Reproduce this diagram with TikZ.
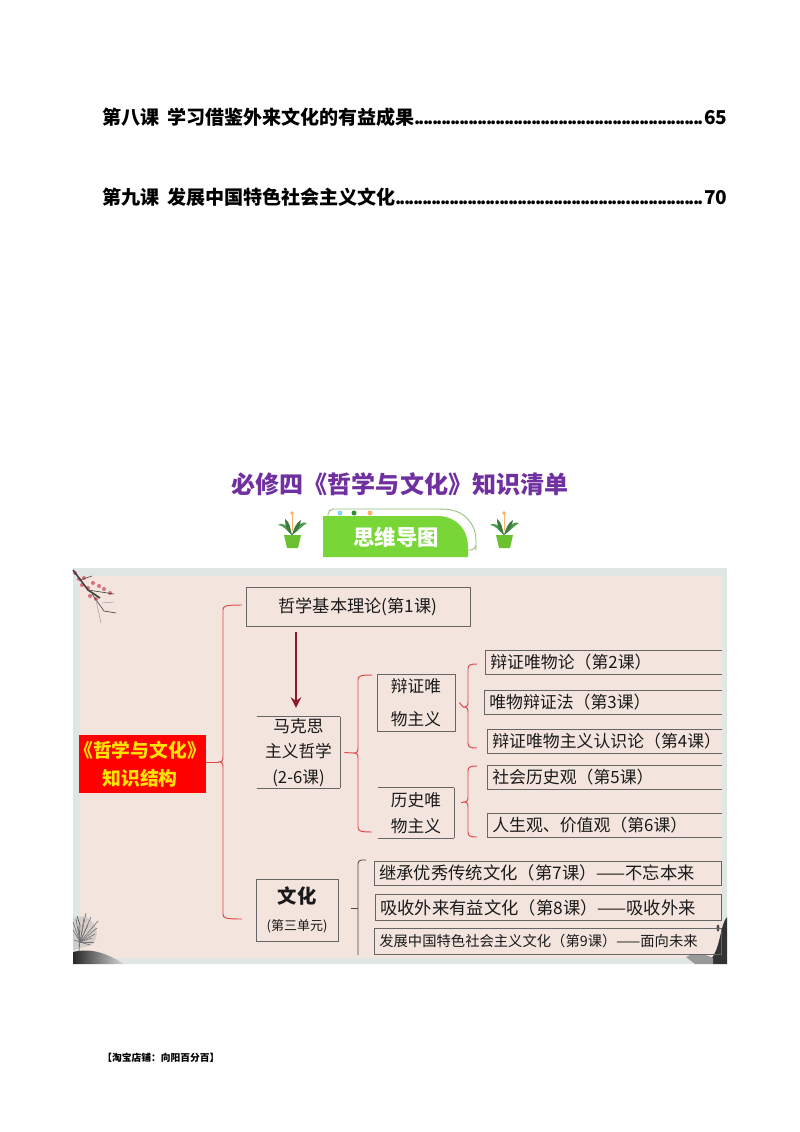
\documentclass[tikz,border=0pt]{standalone}
\usepackage{fontspec}
\usepackage{xcolor}
\setmainfont{Noto Sans CJK SC}
\usetikzlibrary{arrows.meta, positioning}

\definecolor{titlepurple}{HTML}{7030A0}
\definecolor{framegrey}{HTML}{E0E6E3}
\definecolor{paper}{HTML}{F3E4DD}
\definecolor{bracered}{HTML}{E0484A}
\definecolor{arrowred}{HTML}{8E1B2A}
\definecolor{bannergreen}{HTML}{78D636}
\definecolor{leafgreen}{HTML}{4E9A50}
\definecolor{inkdark}{HTML}{1A1A1A}
\definecolor{plumpink}{HTML}{D8707E}

\newcommand{\fs}[1]{\fontsize{#1pt}{#1pt}\selectfont}
\newcommand{\dotsto}{\xleaders\hbox to 2.56pt{\hss{\fs{10}.}\hss}\hfill\kern0.5pt}

% left end, spine, top, bottom, tip height
\newcommand{\bracket}[5]{
\draw[redbrace] (#1,#3) .. controls (#2+2,#3) and (#2,#3+1) .. (#2,#3+5) -- (#2,#5-5) .. controls (#2,#5-1) and (#2-1,#5) .. (#2-5,#5) .. controls (#2-1,#5) and (#2,#5+1) .. (#2,#5+5) -- (#2,#4-5) .. controls (#2,#4-1) and (#2+2,#4) .. (#1,#4);
}

\tikzset{
  toc/.style={font=\bfseries\fs{10.85}, text=black, anchor=west, text width=12.5cm, inner sep=0},
  lesson/.style={font=\fs{9.6}, text=inkdark, anchor=west, align=left, inner xsep=0.1cm, inner ysep=0, minimum height=0.47cm},
  branch/.style={font=\fs{9.5}, text=inkdark, align=center, inner sep=0},
  boxline/.style={draw=black!60, line width=0.45pt},
  redbrace/.style={draw=bracered, line width=0.55pt},
  blackbrace/.style={draw=black!70, line width=0.5pt},
  twig/.style={draw=black!75, line width=0.35pt},
}

\begin{document}
\begin{tikzpicture}[x=0.02cm, y=-0.02cm]
\useasboundingbox[fill=white] (0,0) rectangle (800,1132);

% contents lines
\node[toc] (eight) at (102,117) {第八课\hspace{0.4em}学习借鉴外来文化的有益成果\dotsto 65};
\node[toc] (nine) at (102,197) {第九课\hspace{0.4em}发展中国特色社会主义文化\dotsto 70};

\node[font=\bfseries\fs{13.7}, text=titlepurple, inner sep=0] (title) at (400,484) {必修四《哲学与文化》知识清单};

% banner
\draw[bannergreen!70!black!60!white, line width=0.5pt, rounded corners=3] (328,516) -- (328,509) -- (440,509) .. controls (465,510) and (476,525) .. (476,545) -- (476,550) -- (468,550);
\fill[cyan!50!white] (340,513) circle (2.5);
\fill[green!45!black!80] (354,513) circle (2.5);
\fill[orange!60!white] (370,513) circle (2.5);
\fill[bannergreen] (323,516) -- (440,516) .. controls (458,518) and (468,530) .. (468,548) -- (468,557) -- (323,557) -- cycle;
\node[font=\bfseries\fs{12.2}, text=white, inner sep=0] (banner) at (396,537) {思维导图};

% pots
\foreach \px in {293,505}{
  \draw[orange!60!white, line width=0.5pt] (\px-1,531) -- (\px-1,514);
  \fill[orange!60!white] (\px-1,513) circle (1.8);
  \fill[leafgreen] (\px-1,535) .. controls (\px-5,524) and (\px-12,522) .. (\px-15,525) .. controls (\px-10,525) and (\px-7,530) .. (\px-1,535);
  \fill[leafgreen] (\px-1,535) .. controls (\px+4,524) and (\px+10,521) .. (\px+14,523) .. controls (\px+9,526) and (\px+6,530) .. (\px-1,535);
  \fill[leafgreen!80!black] (\px-1,535) .. controls (\px-3,528) and (\px-3,522) .. (\px-8,519) .. controls (\px-8,526) and (\px-6,531) .. (\px-1,535);
  \fill[leafgreen!80!black] (\px-1,535) .. controls (\px+1,528) and (\px+3,523) .. (\px+8,520) .. controls (\px+7,526) and (\px+5,531) .. (\px-1,535);
  \fill[bannergreen!90!black] (\px-9,535) -- (\px+8,535) -- (\px+5,548) -- (\px-6,548) -- cycle;
}

% picture background
\fill[framegrey] (73,568) rectangle (727,964);
\fill[paper] (80,576) rectangle (722,958);

% plum branch
\foreach \bx/\by in {75/573, 79/579, 84/578, 82/585, 88/588, 93/583, 99/586, 104/589, 110/593, 90/596, 96/599}
  \fill[plumpink] (\bx,\by) circle (2);
\draw[twig, line width=0.9pt] (73,570) -- (88,590) -- (100,598);
\draw[twig] (88,590) -- (114,594);
\draw[twig] (80,580) -- (92,576);
\draw[twig] (92,594) -- (104,611) -- (116,613);
\draw[twig, draw=black!35] (96,600) -- (101,623);
\draw[twig, draw=black!35] (102,603) -- (114,602);

% tree and hill
\fill[black!30, opacity=0.45] (73,918) -- (84,916) .. controls (98,922) and (100,935) .. (92,945) -- (73,950) -- cycle;
\shade[left color=black!85, right color=black!15] (73,964) -- (73,952) .. controls (90,948) and (105,952) .. (124,964) -- cycle;
\draw[twig] (79,952) -- (80,925) -- (77,916);
\foreach \tx/\ty in {73/922, 91/917, 97/928, 73/930, 86/913, 92/938, 98/921, 74/940, 95/934, 84/918, 78/926, 88/925, 90/945, 76/919, 94/942}
  \draw[twig, draw=black!55] (80,942) -- (\tx,\ty);

% rock on the right
\fill[black!80] (727,917) .. controls (720,925) and (721,945) .. (712,958) -- (713,964) -- (727,964) -- cycle;
\fill[black!70] (718,928) ellipse (1.5 and 3.5);
\fill[black!40] (686,957) .. controls (695,952) and (705,954) .. (713,958) -- (713,964) -- (695,964) -- cycle;

% boxes
\node[draw=black!60, line width=0.45pt, minimum width=4.48cm, minimum height=0.78cm, font=\fs{9.8}, text=inkdark, inner sep=0] (theory) at (358,606.5) {哲学基本理论(第1课)};
\node[fill=red, minimum width=2.54cm, minimum height=1.16cm, inner sep=0, text=yellow!85!orange, font=\bfseries\fs{10.7}, align=center] (main) at (142.5,764) {\hspace*{-0.1cm}\makebox[0pt]{《哲学与文化》}\\[5pt]\hspace*{-0.1cm}知识结构};
\node[branch, minimum width=1.66cm, minimum height=1.42cm] (marx) at (298.5,752.5) {马克思\\[5pt]主义哲学\\[5pt](2-6课)};
\node[branch, minimum width=1.56cm, minimum height=1.14cm, draw=black!60, line width=0.45pt] (dialect) at (416,702.5) {辩证唯\\[9pt]物主义};
\node[branch, minimum width=1.52cm, minimum height=1cm] (history) at (416,813) {历史唯\\[5pt]物主义};
\node[draw=black!60, line width=0.45pt, minimum width=1.64cm, minimum height=1.24cm, inner sep=0, text=inkdark, align=center] (culture) at (297,910) {{\bfseries\fs{11}文化}\\[3pt]{\fs{7.4}(第三单元)}};

% lessons, open on the right
\node[lesson, text width=4.52cm] (dm) at (485,662) {辩证唯物论（第2课）};
\node[lesson, text width=4.54cm] (law) at (484,702.5) {唯物辩证法（第3课）};
\node[lesson, text width=4.48cm] (know) at (487,741.5) {辩证唯物主义认识论（第4课）};
\node[lesson, text width=4.48cm] (soc) at (487,777.5) {社会历史观（第5课）};
\node[lesson, text width=4.48cm] (life) at (487,825) {人生观、价值观（第6课）};
\node[lesson, text width=6.74cm, font=\fs{9.85}] (inherit) at (374,873) {继承优秀传统文化（第7课）——不忘本来};
\node[lesson, text width=6.72cm, minimum height=0.5cm, font=\fs{9.85}] (absorb) at (375,907.5) {吸收外来有益文化（第8课）——吸收外来};
\node[lesson, text width=6.74cm, minimum height=0.5cm, font=\fs{8.15}] (develop) at (374,941.5) {发展中国特色社会主义文化（第9课）——面向未来};

\foreach \n in {dm,law,know,soc,life,history,marx}
  \draw[boxline] (\n.north west) -- (\n.north east);
\foreach \n in {dm,law,know,soc,life,history,marx}
  \draw[boxline] (\n.south west) -- (\n.south east);
\foreach \n in {dm,law,know,soc,life}
  \draw[boxline] (\n.north west) -- (\n.south west);
\foreach \n in {history,marx}
  \draw[boxline] (\n.north east) -- (\n.south east);
\foreach \n in {inherit,absorb,develop}
  \draw[boxline] (\n.south west) rectangle (\n.north east);

% arrow
\draw[arrowred, line width=1.7pt, -{Stealth[length=6pt, width=6pt]}, shorten <=3pt, shorten >=5pt] ([xshift=-0.05cm]marx.north |- theory.south) -- ([xshift=-0.05cm]marx.north);

% brackets
\bracket{242}{223}{605}{919}{762}
\draw[redbrace] (main.east |- 0,762) -- (218,762);
\bracket{372}{358}{675}{832}{753}
\draw[redbrace] ([xshift=0.08cm]marx.east) -- (353,753);
\bracket{477}{468}{664}{748}{707}
\draw[redbrace] ([xshift=0.08cm]dialect.east) -- (463,707);
\bracket{477}{468}{766}{837}{802}
\draw[redbrace] ([xshift=0.14cm]history.east |- 0,802) -- (463,802);
\draw[blackbrace, rounded corners=2] (366,860) -| (358,955);
\draw[blackbrace] ([xshift=0.26cm]culture.east |- 0,908) -- (358,908);

\node[font=\bfseries\fs{5.55}, text=black, anchor=west, inner sep=0] (shop) at (102,1058) {【淘宝店铺：向阳百分百】};
\end{tikzpicture}
\end{document}
